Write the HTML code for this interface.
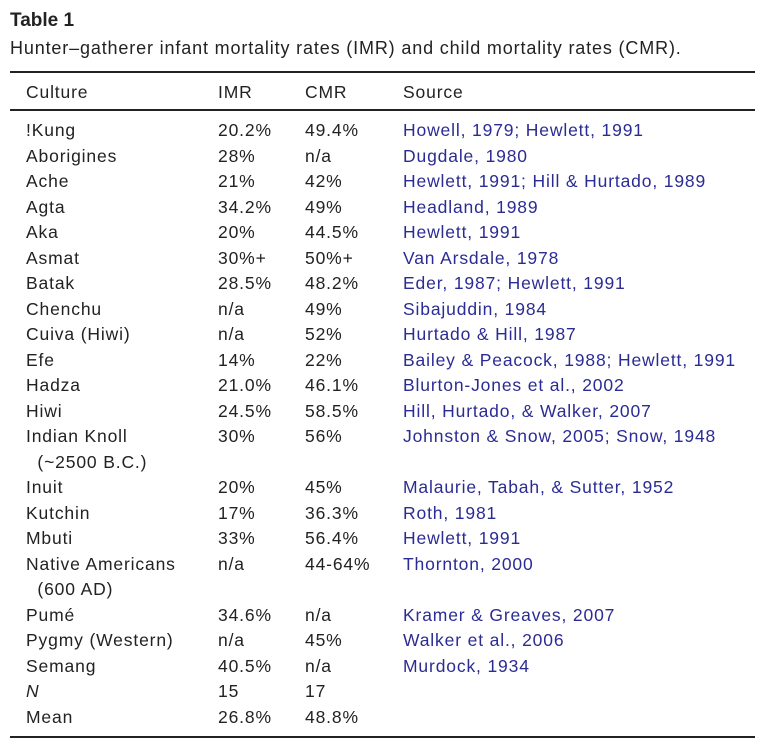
<!DOCTYPE html>
<html><head><meta charset="utf-8"><style>
body{margin:0;width:765px;height:745px;background:#fff;font-family:"Liberation Sans",sans-serif;color:#222;position:relative;overflow:hidden}
.t{position:absolute;left:10px;top:10px;font-weight:bold;font-size:19px}
.c{position:absolute;left:10px;top:38px;font-size:18px;letter-spacing:0.85px}
.r{position:absolute;left:10px;width:745px;height:2px;background:#222}
.row{position:absolute;left:0;width:765px;height:25.5px;line-height:25.5px;font-size:17.5px;white-space:nowrap;letter-spacing:0.85px}
.row span{position:absolute}
.a{left:26px}.b{left:218px}.d{left:305px}.e{left:403px;color:#2b2b94}
</style></head><body>
<div class="t">Table 1</div>
<div class="c">Hunter–gatherer infant mortality rates (IMR) and child mortality rates (CMR).</div>
<div class="r" style="top:71px"></div>
<div class="row" style="top:80px"><span class="a">Culture</span><span class="b">IMR</span><span class="d">CMR</span><span class="e" style="color:#222">Source</span></div>
<div class="r" style="top:109px"></div>
<div class="row" style="top:118px"><span class="a">!Kung</span><span class="b">20.2%</span><span class="d">49.4%</span><span class="e">Howell, 1979; Hewlett, 1991</span></div>
<div class="row" style="top:143.5px"><span class="a">Aborigines</span><span class="b">28%</span><span class="d">n/a</span><span class="e">Dugdale, 1980</span></div>
<div class="row" style="top:169px"><span class="a">Ache</span><span class="b">21%</span><span class="d">42%</span><span class="e">Hewlett, 1991; Hill &amp; Hurtado, 1989</span></div>
<div class="row" style="top:194.5px"><span class="a">Agta</span><span class="b">34.2%</span><span class="d">49%</span><span class="e">Headland, 1989</span></div>
<div class="row" style="top:220px"><span class="a">Aka</span><span class="b">20%</span><span class="d">44.5%</span><span class="e">Hewlett, 1991</span></div>
<div class="row" style="top:245.5px"><span class="a">Asmat</span><span class="b">30%+</span><span class="d">50%+</span><span class="e">Van Arsdale, 1978</span></div>
<div class="row" style="top:271px"><span class="a">Batak</span><span class="b">28.5%</span><span class="d">48.2%</span><span class="e">Eder, 1987; Hewlett, 1991</span></div>
<div class="row" style="top:296.5px"><span class="a">Chenchu</span><span class="b">n/a</span><span class="d">49%</span><span class="e">Sibajuddin, 1984</span></div>
<div class="row" style="top:322px"><span class="a">Cuiva (Hiwi)</span><span class="b">n/a</span><span class="d">52%</span><span class="e">Hurtado &amp; Hill, 1987</span></div>
<div class="row" style="top:347.5px"><span class="a">Efe</span><span class="b">14%</span><span class="d">22%</span><span class="e">Bailey &amp; Peacock, 1988; Hewlett, 1991</span></div>
<div class="row" style="top:373px"><span class="a">Hadza</span><span class="b">21.0%</span><span class="d">46.1%</span><span class="e">Blurton-Jones et al., 2002</span></div>
<div class="row" style="top:398.5px"><span class="a">Hiwi</span><span class="b">24.5%</span><span class="d">58.5%</span><span class="e">Hill, Hurtado, &amp; Walker, 2007</span></div>
<div class="row" style="top:424px"><span class="a">Indian Knoll</span><span class="b">30%</span><span class="d">56%</span><span class="e">Johnston &amp; Snow, 2005; Snow, 1948</span></div>
<div class="row" style="top:449.5px"><span class="a">&nbsp;&nbsp;(~2500 B.C.)</span></div>
<div class="row" style="top:475px"><span class="a">Inuit</span><span class="b">20%</span><span class="d">45%</span><span class="e">Malaurie, Tabah, &amp; Sutter, 1952</span></div>
<div class="row" style="top:500.5px"><span class="a">Kutchin</span><span class="b">17%</span><span class="d">36.3%</span><span class="e">Roth, 1981</span></div>
<div class="row" style="top:526px"><span class="a">Mbuti</span><span class="b">33%</span><span class="d">56.4%</span><span class="e">Hewlett, 1991</span></div>
<div class="row" style="top:551.5px"><span class="a">Native Americans</span><span class="b">n/a</span><span class="d">44-64%</span><span class="e">Thornton, 2000</span></div>
<div class="row" style="top:577px"><span class="a">&nbsp;&nbsp;(600 AD)</span></div>
<div class="row" style="top:602.5px"><span class="a">Pumé</span><span class="b">34.6%</span><span class="d">n/a</span><span class="e">Kramer &amp; Greaves, 2007</span></div>
<div class="row" style="top:628px"><span class="a">Pygmy (Western)</span><span class="b">n/a</span><span class="d">45%</span><span class="e">Walker et al., 2006</span></div>
<div class="row" style="top:653.5px"><span class="a">Semang</span><span class="b">40.5%</span><span class="d">n/a</span><span class="e">Murdock, 1934</span></div>
<div class="row" style="top:679px"><span class="a"><i>N</i></span><span class="b">15</span><span class="d">17</span></div>
<div class="row" style="top:704.5px"><span class="a">Mean</span><span class="b">26.8%</span><span class="d">48.8%</span></div>
<div class="r" style="top:736px"></div>
</body></html>
